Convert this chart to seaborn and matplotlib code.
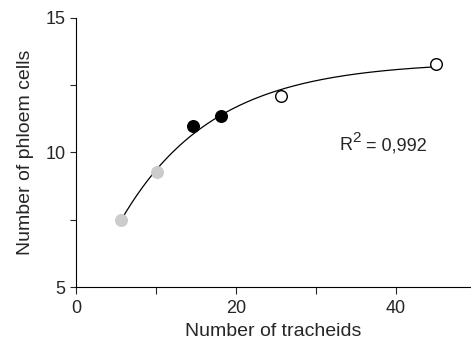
import numpy as np
import matplotlib
matplotlib.use("Agg")
import matplotlib.pyplot as plt
import seaborn as sns
import pandas as pd

# data
tracheids = [5.7, 10.2, 14.7, 18.1, 25.6, 45.0]
phloem = [7.5, 9.28, 10.97, 11.35, 12.09, 13.27]
groups = ["light", "light", "dark", "dark", "open", "open"]
r2_base = "R"
r2_sup = "2"
r2_rest = " = 0,992"

df = pd.DataFrame({"x": tracheids, "y": phloem, "g": groups})

# fit y = y0 + a*(1-exp(-b x)) to the data (least squares over b)
xs = np.array(tracheids)
ys = np.array(phloem)
best = None
for b in np.linspace(0.01, 0.5, 2000):
    A = np.column_stack([np.ones_like(xs), 1 - np.exp(-b * xs)])
    coef, *_ = np.linalg.lstsq(A, ys, rcond=None)
    err = np.sum((A @ coef - ys) ** 2)
    if best is None or err < best[0]:
        best = (err, b, coef)
_, bb, cc = best
xf = np.linspace(xs.min(), xs.max(), 300)
yf = cc[0] + cc[1] * (1 - np.exp(-bb * xf))

sns.set_style("ticks")
plt.rcParams["font.family"] = ["Liberation Sans", "DejaVu Sans"]

fig = plt.figure(figsize=(4.71, 3.45), dpi=100)
ax = fig.add_axes([0.161, 0.168, 0.839, 0.781])

sns.lineplot(x=xf, y=yf, ax=ax, color="black", linewidth=0.9)

styles = {"light": dict(color="#cccccc", edgecolor="#cccccc"),
          "dark": dict(color="black", edgecolor="black"),
          "open": dict(color="white", edgecolor="black")}
for g, st in styles.items():
    sub = df[df.g == g]
    sns.scatterplot(data=sub, x="x", y="y", ax=ax, s=70, linewidth=1.0,
                    zorder=3, **st)

# R^2 label with a large superscript, chained via offsets
t1 = ax.text(32.9, 10.24, r2_base, fontsize=13, va="center", ha="left")
t2 = ax.annotate(r2_sup, xycoords=t1, xy=(1, 0.55), fontsize=11,
                 va="bottom", ha="left")
ax.annotate(r2_rest, xycoords=t1, xy=(1, 0.5), xytext=(6.5, 0),
            textcoords="offset points", fontsize=13, va="center", ha="left")

ax.set_xlim(0, 49.4)
ax.set_ylim(5, 15)
ax.set_xticks([0, 20, 40])
ax.set_xticks([10, 30], minor=True)
ax.set_yticks([5, 10, 15])
ax.set_yticks([7.5, 12.5], minor=True)
ax.tick_params(which="both", direction="out", length=4, width=0.8, labelsize=13)
ax.tick_params(axis="x", which="both", length=5, pad=4)
ax.set_xlabel("Number of tracheids", fontsize=14, labelpad=5)
ax.set_ylabel("Number of phloem cells", fontsize=14, labelpad=8)
for s in ["top", "right"]:
    ax.spines[s].set_visible(False)
for s in ["left", "bottom"]:
    ax.spines[s].set_linewidth(0.8)
    ax.spines[s].set_color("black")

fig.savefig("out.png", dpi=100)
